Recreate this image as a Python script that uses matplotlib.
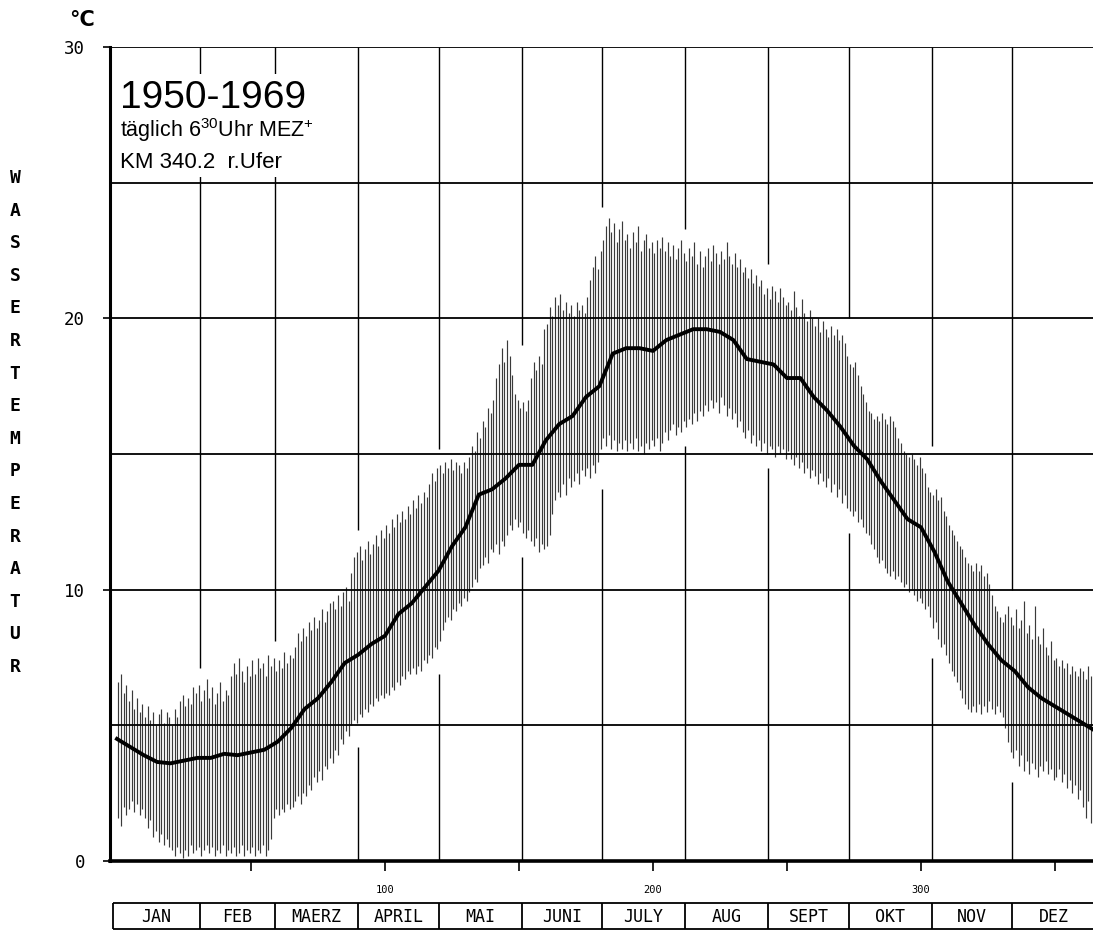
import matplotlib
matplotlib.use("Agg")
from matplotlib import pyplot as plt
from matplotlib.patches import Rectangle
import numpy as np

# daily range of water temperature (one bar per day, Jan 1 .. Dec 31)
hi = [
    6.6, 6.9, 6.2, 6.5, 5.9, 6.3, 5.6, 6.0, 5.5, 5.8,
    5.3, 5.7, 5.2, 5.5, 5.0, 5.4, 5.6, 5.1, 5.5, 5.3,
    5.0, 5.6, 5.3, 5.9, 6.1, 5.7, 6.0, 5.8, 6.4, 6.2,
    6.5, 5.9, 6.3, 6.7, 6.0, 6.4, 5.8, 6.2, 6.6, 5.9,
    6.3, 6.1, 6.8, 7.3, 6.9, 7.5, 7.0, 6.6, 7.2, 6.8,
    7.4, 6.9, 7.5, 7.1, 7.3, 6.8, 7.6, 7.2, 7.5, 7.0,
    7.4, 7.1, 7.7, 7.3, 7.6, 7.5, 7.9, 8.4, 8.1, 8.6,
    8.3, 8.8, 8.5, 9.0, 8.6, 8.9, 9.3, 8.8, 9.2, 9.5,
    9.6, 9.3, 9.8, 9.4, 9.9, 10.1, 9.6, 10.6, 11.2, 11.4,
    11.6, 11.1, 11.5, 11.8, 11.3, 11.7, 12.0, 11.6, 12.2, 11.9,
    12.4, 12.1, 12.6, 12.3, 12.8, 12.5, 12.9, 12.6, 13.1, 12.8,
    13.3, 13.0, 13.5, 13.2, 13.6, 13.4, 13.9, 14.3, 14.0, 14.5,
    14.6, 14.3, 14.7, 14.5, 14.8, 14.4, 14.7, 14.6, 14.3, 14.7,
    14.5, 14.9, 15.3, 15.1, 15.8, 15.6, 16.2, 16.0, 16.7, 16.5,
    17.0, 17.8, 18.3, 18.9, 18.4, 19.2, 18.6, 17.9, 17.2, 17.0,
    16.7, 16.9, 16.6, 17.0, 17.8, 18.4, 18.1, 18.6, 18.3, 19.6,
    19.8, 20.4, 20.1, 20.8, 20.5, 20.9, 20.3, 20.6, 20.2, 20.5,
    20.1, 20.6, 20.3, 20.5, 20.2, 20.8, 21.4, 21.9, 22.3, 21.8,
    22.5, 22.9, 23.4, 23.7, 23.2, 23.5, 22.8, 23.3, 23.6, 22.9,
    23.1, 22.6, 23.2, 22.8, 23.4, 22.5, 22.9, 23.1, 22.6, 22.8,
    22.4, 22.9, 22.6, 23.0, 22.5, 22.8, 22.3, 22.7, 22.2, 22.6,
    22.9, 22.4, 22.1, 22.6, 22.3, 22.8, 22.0, 22.5, 21.9, 22.3,
    22.6, 22.1, 22.7, 22.4, 22.0, 22.5, 22.2, 22.8, 22.3, 22.0,
    22.4, 21.9, 22.2, 21.7, 21.9, 21.5, 21.8, 21.3, 21.6, 21.2,
    21.4, 20.9, 21.1, 20.7, 21.2, 21.0, 20.6, 21.1, 20.8, 20.5,
    20.6, 20.3, 21.0, 20.4, 20.1, 20.7, 20.2, 19.9, 20.3, 20.0,
    19.7, 20.0, 19.5, 19.9, 19.6, 19.3, 19.7, 19.4, 19.6, 19.2,
    19.4, 19.1, 18.6, 18.3, 18.2, 18.4, 17.9, 17.5, 17.2, 16.9,
    16.6, 16.5, 16.3, 16.4, 16.2, 16.5, 16.3, 16.1, 16.4, 16.2,
    16.0, 15.6, 15.4, 15.1, 15.0, 14.9, 15.0, 14.8, 14.6, 14.9,
    14.5, 14.3, 13.8, 13.6, 13.5, 13.7, 13.3, 13.4, 12.9, 12.7,
    12.4, 12.2, 12.0, 11.8, 11.6, 11.5, 11.2, 11.0, 10.9, 10.7,
    11.0, 10.7, 10.9, 10.5, 10.6, 10.2, 9.8, 9.4, 9.2, 9.0,
    8.8, 9.1, 9.4, 9.0, 8.7, 9.3, 8.6, 8.9, 9.6, 8.4,
    8.7, 8.2, 9.4, 8.3, 8.0, 8.6, 7.9, 7.6, 8.1, 7.4,
    7.5, 7.2, 7.4, 7.1, 7.3, 6.9, 7.2, 7.0, 6.8, 7.1,
    7.0, 6.7, 7.2, 6.8, 7.0,
]
lo = [
    1.6, 1.3, 2.0, 1.7, 1.9, 2.2, 1.8, 2.1, 1.7, 1.9,
    1.6, 1.2, 1.5, 0.9, 1.1, 0.7, 1.0, 0.6, 0.8, 0.5,
    0.4, 0.2, 0.5, 0.3, 0.1, 0.4, 0.2, 0.6, 0.3, 0.4,
    0.5, 0.2, 0.4, 0.6, 0.3, 0.5, 0.2, 0.4, 0.3, 0.6,
    0.2, 0.4, 0.3, 0.5, 0.2, 0.3, 0.6, 0.2, 0.4, 0.3,
    0.5, 0.2, 0.4, 0.3, 0.6, 0.2, 0.4, 0.8, 1.6, 1.9,
    1.7, 1.9, 1.8, 2.1, 1.9, 2.0, 2.2, 2.4, 2.1, 2.5,
    2.4, 2.8, 2.6, 3.1, 2.9, 3.3, 3.0, 3.5, 3.4, 3.8,
    3.6, 4.1, 3.9, 4.5, 4.3, 4.8, 4.6, 5.0, 5.2, 5.1,
    5.4, 5.3, 5.6, 5.5, 5.8, 5.7, 6.0, 5.9, 6.1, 6.0,
    6.2, 6.1, 6.4, 6.3, 6.6, 6.5, 6.8, 6.7, 7.0, 6.9,
    7.1, 6.9, 7.2, 7.0, 7.4, 7.3, 7.6, 7.5, 7.9, 7.8,
    8.1, 8.5, 8.8, 9.0, 8.9, 9.3, 9.2, 9.5, 9.4, 9.7,
    9.6, 9.9, 10.1, 10.4, 10.3, 10.8, 10.9, 11.2, 11.0, 11.5,
    11.4, 11.7, 11.3, 11.8, 11.6, 12.0, 12.4, 12.2, 12.6, 12.3,
    12.5, 12.1, 11.9, 12.2, 11.8, 11.6, 11.9, 11.4, 11.7, 11.5,
    11.6, 12.0, 12.8, 13.3, 13.6, 13.4, 13.9, 13.5, 14.1, 13.8,
    14.0, 14.3, 13.9, 14.4, 14.2, 14.5, 14.1, 14.6, 14.3, 14.7,
    15.2, 15.6, 15.3, 15.7, 15.2, 15.5, 15.1, 15.4, 15.2, 15.5,
    15.1, 15.4, 15.2, 15.6, 15.1, 15.3, 15.0, 15.4, 15.2, 15.5,
    15.3, 15.6, 15.1, 15.4, 15.8, 15.5, 15.9, 16.1, 15.7, 16.0,
    15.8, 16.2, 16.0, 16.3, 16.1, 16.5, 16.2, 16.6, 16.4, 16.8,
    16.6, 17.0, 16.7, 16.9, 16.5, 17.1, 16.8, 16.4, 16.7, 16.3,
    16.5, 16.0, 16.2, 15.8, 15.6, 15.9, 15.4, 15.7, 15.3, 15.5,
    15.1, 15.4, 15.0, 15.3, 15.2, 14.9, 15.3, 15.0, 15.2, 14.8,
    15.1, 14.8, 14.6, 14.9, 14.5, 14.7, 14.3, 14.5, 14.1, 14.4,
    14.2, 13.9, 14.3, 14.0, 13.8, 14.1, 13.6, 13.9, 13.4, 13.7,
    13.2, 13.5, 13.0, 12.9, 12.7, 12.9, 12.5, 12.6, 12.3, 12.1,
    12.0, 11.7, 11.5, 11.2, 11.0, 11.1, 10.8, 10.6, 10.5, 10.7,
    10.4, 10.5, 10.3, 10.1, 10.2, 9.9, 10.0, 9.8, 9.6, 9.7,
    9.5, 9.3, 9.4, 9.0, 8.6, 8.8, 8.2, 7.9, 8.0, 7.6,
    7.3, 7.0, 6.8, 6.6, 6.3, 6.0, 5.8, 5.6, 5.5, 5.7,
    5.5, 5.8, 5.4, 5.7, 5.5, 5.9, 5.6, 5.4, 5.7, 5.5,
    5.3, 4.9, 4.4, 4.0, 3.8, 4.1, 3.5, 3.9, 3.3, 3.7,
    3.2, 3.6, 3.4, 3.1, 3.5, 3.3, 3.7, 3.2, 3.4, 3.0,
    3.1, 3.4, 2.9, 3.2, 2.7, 3.0, 2.5, 2.8, 2.3, 2.6,
    2.0, 1.6, 2.2, 1.4, 1.0,
]

# mean curve, read every 5 days (day 0 .. 365)
mean_days = list(range(0, 366, 5))
mean_vals = [
    4.5, 4.2, 3.9, 3.65, 3.6, 3.7, 3.8, 3.8, 3.95, 3.9,
    4.0, 4.1, 4.4, 4.9, 5.6, 6.0, 6.6, 7.3, 7.6, 8.0,
    8.3, 9.1, 9.5, 10.1, 10.7, 11.6, 12.3, 13.5, 13.7, 14.1,
    14.6, 14.6, 15.5, 16.1, 16.4, 17.1, 17.5, 18.7, 18.9, 18.9,
    18.8, 19.2, 19.4, 19.6, 19.6, 19.5, 19.2, 18.5, 18.4, 18.3,
    17.8, 17.8, 17.1, 16.6, 16.0, 15.3, 14.8, 14.0, 13.3, 12.6,
    12.3, 11.4, 10.3, 9.5, 8.7, 8.0, 7.4, 7.0, 6.4, 6.0,
    5.7, 5.4, 5.1, 4.8,
]

months = ["JAN", "FEB", "MAERZ", "APRIL", "MAI", "JUNI",
          "JULY", "AUG", "SEPT", "OKT", "NOV", "DEZ"]
month_edges = [0, 31, 59, 90, 120, 151, 181, 212, 243, 273, 304, 334, 365]

hi = np.array(hi)
lo = np.array(lo)
days = np.arange(len(hi)) + 0.5

W, H = 1093, 931
fig = plt.figure(figsize=(W / 100, H / 100), dpi=100)
ax = fig.add_axes([110 / W, 70 / H, 983 / W, 814 / H])
ax.set_xlim(-2.6, 364.2)
ax.set_ylim(0, 30)

# daily bars
ax.vlines(days, lo, hi, color="#3a3a3a", lw=0.85, zorder=2)
# mean
ax.plot(mean_days, mean_vals, color="black", lw=2.8, zorder=4,
        solid_joinstyle="round")

# horizontal grid
for v in [5, 10, 15, 20, 25, 30]:
    ax.axhline(v, color="black", lw=1.3, zorder=3)

# vertical month lines, interrupted where the bars are
for m in month_edges[1:-1]:
    win = slice(max(m - 5, 0), min(m + 5, len(hi)))
    g_lo = lo[win].min() - 0.4
    g_hi = hi[win].max() + 0.4
    if g_lo > 0:
        ax.vlines(m, 0, g_lo, color="black", lw=1.0, zorder=1)
    ax.vlines(m, g_hi, 30, color="black", lw=1.0, zorder=1)

# blank field behind the legend text
ax.add_patch(Rectangle((-2.6, 25.2), 81, 3.8, facecolor="white",
                       edgecolor="none", zorder=1.5))

plt.rcParams["mathtext.fontset"] = "custom"
plt.rcParams["mathtext.rm"] = "Liberation Sans"
ax.text(1.0, 27.75, "1950-1969", fontsize=28,
        family="Liberation Sans", zorder=5)
ax.text(1.0, 26.7, r"täglich 6$^{30}$Uhr MEZ$^{+}$", fontsize=15.5,
        family="Liberation Sans", zorder=5)
ax.text(1.0, 25.55, "KM 340.2  r.Ufer", fontsize=16,
        family="Liberation Sans", zorder=5)

# axes styling
for s in ["top", "right"]:
    ax.spines[s].set_visible(False)
ax.spines["left"].set_linewidth(2.2)
ax.spines["bottom"].set_linewidth(2.6)
ax.set_yticks([0, 10, 20, 30])
ax.set_yticklabels(["0", "10", "20", "30"], family="DejaVu Sans Mono",
                   fontsize=12.5)
ax.tick_params(axis="y", length=5, width=1.2, pad=13)
ax.set_xticks([50, 100, 150, 200, 250, 300, 350])
ax.set_xticklabels(["", "100", "", "200", "", "300", ""],
                   family="DejaVu Sans Mono", fontsize=7.5)
ax.tick_params(axis="x", length=7, width=1.2, pad=10)

fig.text(82 / W, 1 - 20 / H, "°C", fontsize=15, fontweight="bold",
         ha="center", va="center", family="DejaVu Sans")

# vertical axis title, one letter per row
for i, ch in enumerate("WASSERTEMPERATUR"):
    fig.text(15 / W, 1 - (178 + i * 32.6) / H, ch, fontsize=13,
             fontweight="bold", family="DejaVu Sans Mono",
             ha="center", va="center")

# month boxes below the axis
mx = fig.add_axes([110 / W, 1 / H, 983 / W, 28 / H])
mx.set_xlim(-2.6, 364.2)
mx.set_ylim(0, 1)
mx.axis("off")
mx.hlines([0.02, 0.98], -1.5, 366, color="black", lw=1.3, clip_on=False)
mx.vlines([-1.5] + month_edges[1:-1], 0.02, 0.98, color="black", lw=1.3)
for i, name in enumerate(months):
    left = -1.5 if i == 0 else month_edges[i]
    mx.text((left + month_edges[i + 1]) / 2, 0.47, name, ha="center",
            va="center", family="DejaVu Sans Mono", fontsize=12)

fig.savefig("out.png", dpi=100, facecolor="white")
